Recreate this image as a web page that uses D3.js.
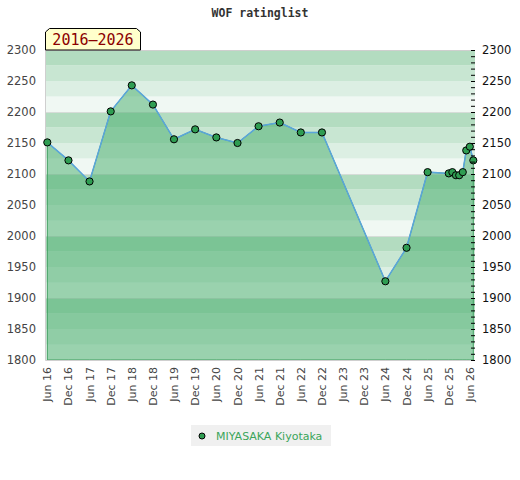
<!DOCTYPE html>
<html>
<head>
<meta charset="utf-8">
<script src="https://cdn.jsdelivr.net/npm/d3@7"></script>
<style>
  body { margin: 0; background: #fff; }
  svg { display: block; }
</style>
</head>
<body>
<svg width="520" height="480"></svg>
<script>
// rating list dates and values
var dates = ["2016-06", "2016-12", "2017-06", "2017-12", "2018-06", "2018-12",
  "2019-06", "2019-12", "2020-06", "2020-12", "2021-06", "2021-12", "2022-06",
  "2022-12", "2024-06", "2024-12", "2025-06", "2025-12", "2026-01", "2026-02",
  "2026-03", "2026-04", "2026-05", "2026-06", "2026-07"];
var ratings = [2151, 2122, 2088, 2201, 2243, 2212, 2156, 2172, 2159, 2150, 2177,
  2183, 2167, 2167, 1927, 1981, 2103, 2101, 2103, 2098, 2098, 2103, 2138, 2144, 2122];

var xTickLabels = ["Jun 16", "Dec 16", "Jun 17", "Dec 17", "Jun 18", "Dec 18",
  "Jun 19", "Dec 19", "Jun 20", "Dec 20", "Jun 21", "Dec 21", "Jun 22", "Dec 22",
  "Jun 23", "Dec 23", "Jun 24", "Dec 24", "Jun 25", "Dec 25", "Jun 26"];
var yTicks = [1800, 1850, 1900, 1950, 2000, 2050, 2100, 2150, 2200, 2250, 2300];

var playerName = "MIYASAKA Kiyotaka";
var periodLabel = "2016\u20132026";
var chartTitle = "WOF ratinglist";

var parseMonth = d3.timeParse("%Y-%m");
var parseTick = d3.timeParse("%b %y");
var data = dates.map((d, i) => ({ date: parseMonth(d), rating: ratings[i] }));

var svg = d3.select("svg");

var plotLeft = 45, plotRight = 475, plotTop = 50, plotBottom = 360;

var xScale = d3.scaleTime()
      .domain([parseMonth("2016-06"), parseMonth("2026-07")])
      .range([47.3, 473.3]);
var yScale = d3.scaleLinear()
      .domain([1800, 2300])
      .range([plotBottom, plotTop]);

// striped background, 25 points per stripe
var bandColors = ["#b3dcc0", "#c8e6d2", "#dcefe3", "#f0f8f3"];
var bands = d3.range(1800, 2300, 25);
svg.append("g")
      .selectAll("rect")
      .data(bands)
      .enter()
      .append("rect")
      .attr("x", plotLeft)
      .attr("width", plotRight - plotLeft)
      .attr("y", d => yScale(d + 25))
      .attr("height", d => yScale(d) - yScale(d + 25))
      .attr("fill", d => bandColors[((2300 - (d + 25)) / 25) % 4]);

svg.append("g")
      .selectAll("line")
      .data([1900, 2000, 2100, 2200])
      .enter()
      .append("line")
      .attr("x1", plotLeft).attr("x2", plotRight)
      .attr("y1", d => Math.round(yScale(d)) + 0.5)
      .attr("y2", d => Math.round(yScale(d)) + 0.5)
      .attr("stroke", "#d6dcd8")
      .attr("stroke-width", 1);

var area = d3.area()
      .x(d => xScale(d.date))
      .y0(yScale(1800))
      .y1(d => yScale(d.rating));
var line = d3.line()
      .x(d => xScale(d.date))
      .y(d => yScale(d.rating));

svg.append("path")
      .datum(data)
      .attr("d", area)
      .attr("fill", "rgba(67,172,106,0.5)")
      .attr("stroke", "#3f9f5f")
      .attr("stroke-width", 1);

svg.append("path")
      .datum(data)
      .attr("d", line)
      .attr("fill", "none")
      .attr("stroke", "#5aa5dc")
      .attr("stroke-width", 1.5);

// plot border
svg.append("path")
      .attr("d", `M${plotLeft + 0.5},${plotTop} V${plotBottom + 0.5} H${plotRight} M${plotLeft},${plotTop + 0.5} H${plotRight}`)
      .attr("fill", "none")
      .attr("stroke", "#cfcfcf")
      .attr("stroke-width", 1);

svg.append("g")
      .selectAll("circle")
      .data(data)
      .enter()
      .append("circle")
      .attr("cx", d => xScale(d.date))
      .attr("cy", d => yScale(d.rating))
      .attr("r", 3.6)
      .attr("fill", "#2f9d52")
      .attr("stroke", "#000")
      .attr("stroke-width", 1);

// left labels
svg.append("g")
      .selectAll("text")
      .data(yTicks)
      .enter()
      .append("text")
      .attr("x", 36)
      .attr("y", d => yScale(d))
      .attr("dy", "0.36em")
      .attr("text-anchor", "end")
      .attr("font-family", "DejaVu Sans")
      .attr("font-size", 11.5)
      .attr("fill", "#444")
      .text(d => d);

// right axis with minor ticks
var yAxisRight = d3.axisLeft(yScale)
      .tickValues(d3.range(1800, 2301, 10))
      .tickSize(4)
      .tickFormat("");
var rAxis = svg.append("g")
      .attr("transform", `translate(${plotRight},0)`)
      .call(yAxisRight);
rAxis.select(".domain").remove();
rAxis.selectAll("line").attr("stroke", "#000");

svg.append("g")
      .selectAll("text")
      .data(yTicks)
      .enter()
      .append("text")
      .attr("x", 482)
      .attr("y", d => yScale(d))
      .attr("dy", "0.36em")
      .attr("font-family", "DejaVu Sans")
      .attr("font-size", 11.5)
      .attr("fill", "#111")
      .text(d => d);

// rotated x labels
svg.append("g")
      .selectAll("text")
      .data(xTickLabels)
      .enter()
      .append("text")
      .attr("transform", d => `translate(${xScale(parseTick(d)) + 4},367) rotate(-90)`)
      .attr("text-anchor", "end")
      .attr("font-family", "DejaVu Sans")
      .attr("font-size", 11)
      .attr("fill", "#444")
      .text(d => d);

// title
svg.append("text")
      .attr("x", 260)
      .attr("y", 17)
      .attr("text-anchor", "middle")
      .attr("font-family", "DejaVu Sans Mono")
      .attr("font-weight", "bold")
      .attr("font-size", 11.5)
      .attr("fill", "#333")
      .text(chartTitle);

// period tag
svg.append("path")
      .attr("d", "M45.5,50 V32 L49.5,28.5 H136.5 L140.5,32 V50 Z")
      .attr("fill", "#ffffcc")
      .attr("stroke", "#000")
      .attr("stroke-width", 1);
svg.append("text")
      .attr("x", 93)
      .attr("y", 45)
      .attr("text-anchor", "middle")
      .attr("font-family", "DejaVu Sans Mono")
      .attr("font-size", 15)
      .attr("fill", "#8b0000")
      .text(periodLabel);

// legend
var legend = svg.append("g").attr("transform", "translate(191,425)");
legend.append("rect")
      .attr("width", 140)
      .attr("height", 21)
      .attr("fill", "#f0f0f0");
legend.append("circle")
      .attr("cx", 11)
      .attr("cy", 11)
      .attr("r", 3)
      .attr("fill", "#2f9d52")
      .attr("stroke", "#000");
legend.append("text")
      .attr("x", 25)
      .attr("y", 15)
      .attr("font-family", "DejaVu Sans")
      .attr("font-size", 11)
      .attr("fill", "#3aa55a")
      .text(playerName);
</script>
</body>
</html>
